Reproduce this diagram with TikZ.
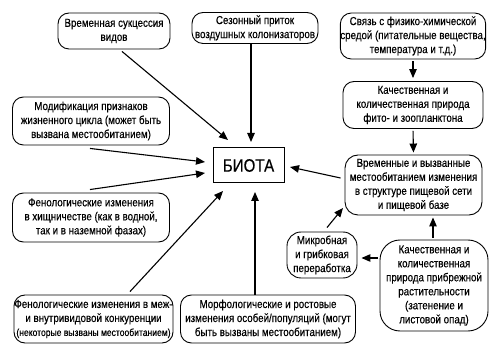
\documentclass[tikz,border=0pt]{standalone}
\usepackage{fontspec}
\setmainfont{Liberation Sans}[FakeStretch=0.84,FakeBold=0.4]
\usetikzlibrary{arrows.meta,calc}
\newcommand\boxfont{\fontsize{11.6}{14}\selectfont}
\begin{document}
\begin{tikzpicture}[x=1pt,y=-1pt,
  bx/.style={draw, line width=0.9pt, rounded corners=11pt, align=center, inner sep=0pt, font=\boxfont},
  arr/.style={line width=1.1pt, -{Triangle[length=9pt,width=7.5pt]}}]
\useasboundingbox (0,0) rectangle (500,352);
\node[bx, minimum width=112pt, minimum height=36pt] (b1) at (114,31) {Временная сукцессия\\видов};
\node[bx, minimum width=126pt, minimum height=31pt] (b2) at (255,28) {Сезонный приток\\воздушных колонизаторов};
\node[bx, minimum width=140pt, minimum height=46pt] (b3) at (413,36) {Связь с физико-химической\\средой (питательные вещества,\\температура и т.д.)};
\node[bx, minimum width=140pt, minimum height=47pt] (b4) at (413,105) {Качественная и\\количественная природа\\фито- и зоопланктона};
\node[bx, minimum width=137pt, minimum height=60pt, rounded corners=13pt] (b5) at (413.5,185) {Временные и вызванные\\местообитанием изменения\\в структуре пищевой сети\\и пищевой базе};
\node[bx, minimum width=157pt, minimum height=48pt] (b6) at (91,121) {Модификация признаков\\жизненного цикла (может быть\\вызвана местообитанием)};
\node[draw, line width=1pt, minimum width=71pt, minimum height=35pt, inner sep=0pt, font=\fontsize{18}{20}\selectfont] (bio) at (248.5,165.5) {БИОТА};
\node[bx, minimum width=157pt, minimum height=49pt] (b8) at (91,217.5) {Фенологические изменения\\в хищничестве (как в водной,\\так и в наземной фазах)};
\node[bx, minimum width=159pt, minimum height=48pt] (b9) at (93.5,319) {Фенологические изменения в меж-\\и внутривидовой конкуренции\\{\fontsize{10.2}{14}\selectfont(некоторые вызваны местообитанием)}};
\node[bx, minimum width=175pt, minimum height=48pt] (b10) at (268,319) {Морфологические и ростовые\\изменения особей/популяций (могут\\быть вызваны местообитанием)};
\node[bx, minimum width=70pt, minimum height=46pt, rounded corners=14pt] (b11) at (322,255) {Микробная\\и грибковая\\переработка};
\node[bx, minimum width=108pt, minimum height=91pt, rounded corners=20pt] (b12) at (434,285.5) {Качественная и\\количественная\\природа прибрежной\\растительности\\(затенение и\\листовой опад)};
% arrow tips near BIOTA
\coordinate (t1) at (228,140);
\coordinate (t2) at (251,142);
\coordinate (t6) at (205,162);
\coordinate (t8) at (205,173);
\coordinate (t9) at (223,191);
\coordinate (t10) at (255,192);
\coordinate (t5) at (290,167);
\draw[arr] ($(b1.south)+(8,2)$) -- (t1);
\draw[arr] (b2.south -| t2) -- (t2);
\draw[arr] ($(b6.south)+(-1,3)$) -- (t6);
\draw[arr] ($(b8.north)+(-1,-3)$) -- (t8);
\draw[arr] ($(b9.north)+(36.5,-3)$) -- (t9);
\draw[arr] (b10.north -| t10) -- (t10);
\draw[arr] ($(b5.west)+(-4,-7)$) -- (t5);
\draw[arr, shorten <=2pt, shorten >=3pt] (b3.south) -- (b4.north);
\draw[arr, shorten <=2pt, shorten >=2pt] (b4.south) -- (b5.north);
\coordinate (s12) at (433,240);
\draw[arr, shorten <=2pt, shorten >=2pt] (s12) -- (s12 |- b5.south);
\draw[arr, shorten <=2pt, shorten >=4pt] (b12.west |- 0,258) -- (b11.east |- 0,258);
\draw[arr] ($(b11.north)+(5,-4)$) -- (343,208);
\end{tikzpicture}
\end{document}
